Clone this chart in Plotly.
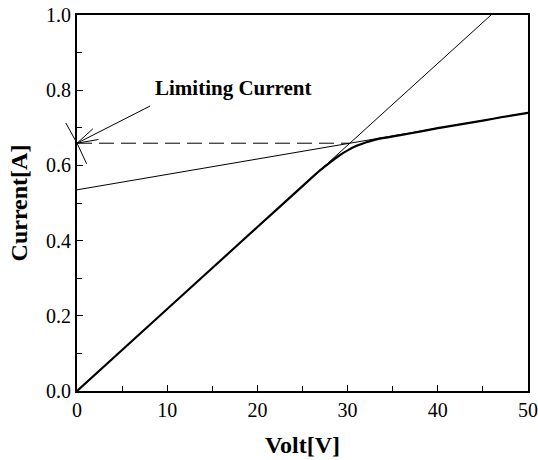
import plotly.graph_objects as go

# Measured current-voltage characteristic
volt = [0, 5, 10, 15, 20, 25, 27, 28, 29, 30, 31, 32, 33, 34, 35, 36, 38, 40, 42, 45, 47, 50]
current = [0.0, 0.109, 0.218, 0.327, 0.436, 0.545, 0.588, 0.607, 0.625, 0.640, 0.652,
           0.661, 0.668, 0.673, 0.677, 0.681, 0.690, 0.699, 0.707, 0.719, 0.728, 0.740]

# Ohmic-region fit line (through origin) and saturation-region fit line
ohmic_v = [0, 50]
ohmic_i = [0.0, 50 / 45.9]
sat_v = [0, 50]
sat_i = [0.535, 0.740]

# Limiting current: intersection of the two fit lines
slope_ohm = ohmic_i[1] / ohmic_v[1]
slope_sat = (sat_i[1] - sat_i[0]) / (sat_v[1] - sat_v[0])
v_cross = sat_i[0] / (slope_ohm - slope_sat)
i_lim = slope_ohm * v_cross
lim_v = [0, v_cross]
lim_i = [i_lim, i_lim]

x_ticks = [0, 10, 20, 30, 40, 50]
y_ticks = [0.0, 0.2, 0.4, 0.6, 0.8, 1.0]
y_tick_text = ["0.0", "0.2", "0.4", "0.6", "0.8", "1.0"]

serif = "Liberation Serif, Times New Roman, serif"

fig = go.Figure()
fig.add_trace(go.Scatter(x=ohmic_v, y=ohmic_i, mode="lines",
                         line=dict(color="black", width=1), hoverinfo="skip"))
fig.add_trace(go.Scatter(x=sat_v, y=sat_i, mode="lines",
                         line=dict(color="black", width=1), hoverinfo="skip"))
fig.add_trace(go.Scatter(x=lim_v, y=lim_i, mode="lines",
                         line=dict(color="black", width=1, dash="15px,7px"), hoverinfo="skip"))
fig.add_trace(go.Scatter(x=volt, y=current, mode="lines",
                         line=dict(color="black", width=2.2, shape="spline", smoothing=0.6)))

annotations = [
    dict(x=8.4, y=0.806, xref="x", yref="y", text="<b>Limiting Current</b>",
         showarrow=False, xanchor="left", yanchor="middle",
         font=dict(family=serif, size=21, color="black")),
]
# Arrow shaft and open head pointing at the limiting current on the axis
for ax, ay in [(74.7, -38), (17.3, -15.7), (23, -4)]:
    annotations.append(dict(x=0, y=i_lim, xref="x", yref="y", text="", showarrow=True,
                            arrowhead=0, arrowwidth=1, arrowcolor="black", ax=ax, ay=ay))
# Slanted marker crossing the axis at the limiting current
for ax, ay in [(-12, -21.7), (10.3, 22)]:
    annotations.append(dict(x=0, y=i_lim, xref="x", yref="y", text="", showarrow=True,
                            arrowhead=0, arrowwidth=1, arrowcolor="black", ax=ax, ay=ay))

fig.update_layout(
    width=538, height=460,
    margin=dict(l=77, r=10, t=15, b=69),
    paper_bgcolor="white", plot_bgcolor="white",
    showlegend=False,
    font=dict(family=serif, size=20, color="black"),
    annotations=annotations,
    xaxis=dict(
        range=[0, 50], tickvals=x_ticks, ticks="inside", ticklen=6, tickwidth=1.2,
        tickcolor="black", showline=True, linecolor="black", linewidth=2, mirror=True,
        showgrid=False, zeroline=False, automargin=False,
        minor=dict(dtick=5, ticks="inside", ticklen=5, tickwidth=1, tickcolor="black"),
        tickfont=dict(family=serif, size=20),
        title=dict(text="<b>Volt[V]</b>", font=dict(family=serif, size=24), standoff=16),
    ),
    yaxis=dict(
        range=[0, 1.0], tickvals=y_ticks, ticktext=y_tick_text, ticks="inside", ticklen=6,
        tickwidth=1.2, tickcolor="black", showline=True, linecolor="black", linewidth=2,
        mirror=True, showgrid=False, zeroline=False, automargin=False,
        minor=dict(dtick=0.1, ticks="inside", ticklen=5, tickwidth=1, tickcolor="black"),
        tickfont=dict(family=serif, size=20),
        title=dict(text="<b>Current[A]</b>", font=dict(family=serif, size=24), standoff=12),
    ),
)

fig.write_html("out.html")
